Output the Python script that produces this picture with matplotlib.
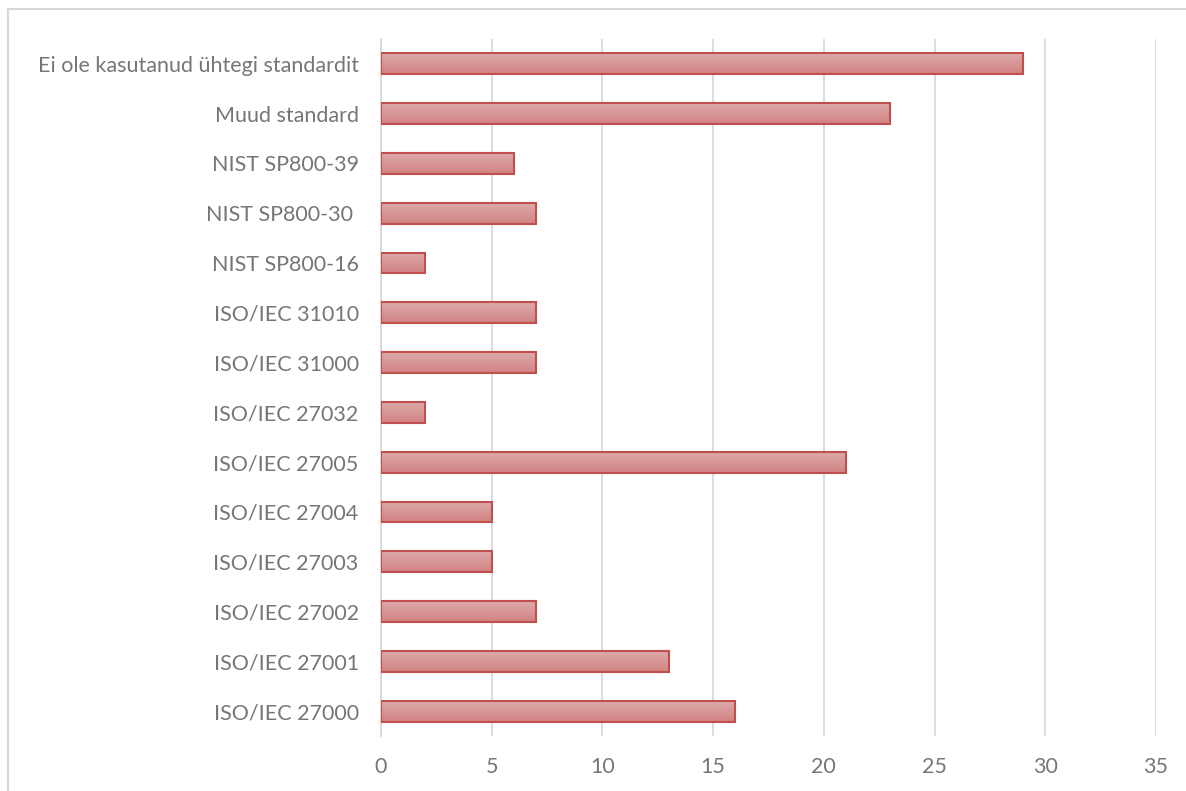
import numpy as np
import matplotlib.pyplot as plt
from matplotlib.patches import Rectangle
from matplotlib.colors import LinearSegmentedColormap

categories = ['ISO/IEC 27000', 'ISO/IEC 27001', 'ISO/IEC 27002', 'ISO/IEC 27003',
              'ISO/IEC 27004', 'ISO/IEC 27005', 'ISO/IEC 27032', 'ISO/IEC 31000',
              'ISO/IEC 31010', 'NIST SP800-16', 'NIST SP800-30 ', 'NIST SP800-39',
              'Muud standard', 'Ei ole kasutanud ühtegi standardit']
values = [16, 13, 7, 5, 5, 21, 2, 7, 7, 2, 7, 6, 23, 29]
xticks = [0, 5, 10, 15, 20, 25, 30, 35]

plt.rcParams['font.family'] = ['Lato', 'DejaVu Sans']

fig = plt.figure(figsize=(11.86, 7.91), dpi=100)
ax = fig.add_axes([0.3212, 0.0695, 0.6535, 0.8812])

# chart border
fig.patches.append(Rectangle((8 / 1186, -0.05), 1.2, 1 - 9 / 791 + 0.05,
                             transform=fig.transFigure, fill=False,
                             edgecolor='#D9D9D9', linewidth=1.5))

y = np.arange(len(categories))
bars = ax.barh(y, values, height=0.42, color='none', edgecolor='#C0504D',
               linewidth=1.5, zorder=3)

cmap = LinearSegmentedColormap.from_list('g', ['#D28282', '#DDAAAA'])
grad = np.linspace(0, 1, 64).reshape(-1, 1)
for b in bars:
    x0, y0 = b.get_x(), b.get_y()
    w, h = b.get_width(), b.get_height()
    im = ax.imshow(grad, cmap=cmap, aspect='auto', origin='lower',
                   extent=[x0, x0 + w, y0, y0 + h], zorder=2)
    im.set_clip_path(b)

ax.set_xlim(0, 35)
ax.set_ylim(-0.5, len(categories) - 0.5)
ax.set_xticks(xticks)
ax.set_yticks(y)
ax.set_yticklabels(categories)
ax.grid(axis='x', color='#D9D9D9', linewidth=1.3, zorder=0)
ax.tick_params(length=0, colors='#767676', labelsize=15.5, pad=16)
ax.tick_params(axis='x', pad=15)
for s in ['top', 'right', 'bottom']:
    ax.spines[s].set_visible(False)
ax.spines['left'].set_color('#D9D9D9')
ax.spines['left'].set_linewidth(1.3)

plt.savefig('out.png')
